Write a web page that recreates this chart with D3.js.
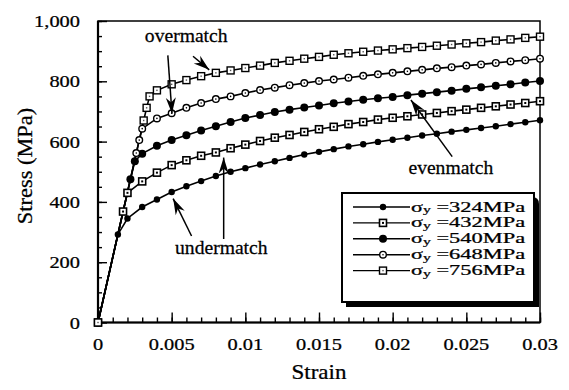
<!DOCTYPE html>
<html><head><meta charset="utf-8">
<script src="https://cdn.jsdelivr.net/npm/d3@7"></script>
<style>
html,body{margin:0;padding:0;background:#fff;}
svg text{font-family:"Liberation Serif","Times New Roman",serif;fill:#000;stroke:#000;stroke-width:0.25px;}
</style></head>
<body><svg id="c" width="569" height="390"></svg>
<script>
// ---------- data ----------
const seriesNames = ["324MPa","432MPa","540MPa","648MPa","756MPa"];
const markerTypes = ["dotSmall","squareDot","dotLarge","circleOpen","squareOpen"];

const strain324 = [0,0.00135,0.002,0.003,0.004,0.005,0.006,0.007,0.008,0.009,0.010,0.011,0.012,0.013,0.014,0.015,0.016,0.017,0.018,0.019,0.020,0.021,0.022,0.023,0.024,0.025,0.026,0.027,0.028,0.029,0.030];
const stress324 = [0,292,345,383,408,433,452,469,486,500,512,524,535,546,557,566,575,584,591,599,606,613,620,626,633,639,645,651,658,664,671];

const strain432 = [0,0.0017,0.002,0.003,0.004,0.005,0.006,0.007,0.008,0.009,0.010,0.011,0.012,0.013,0.014,0.015,0.016,0.017,0.018,0.019,0.020,0.021,0.022,0.023,0.024,0.025,0.026,0.027,0.028,0.029,0.030];
const stress432 = [0,368,430,468,497,522,538,553,564,578,590,602,613,622,632,641,649,658,665,673,679,684,690,695,701,706,712,717,723,728,734];

const strain540 = [0,0.0022,0.0025,0.003,0.004,0.005,0.006,0.007,0.008,0.009,0.010,0.011,0.012,0.013,0.014,0.015,0.016,0.017,0.018,0.019,0.020,0.021,0.022,0.023,0.024,0.025,0.026,0.027,0.028,0.029,0.030];
const stress540 = [0,475,535,560,586,605,621,637,651,665,678,688,698,706,713,720,727,733,739,744,748,754,759,764,769,775,780,785,790,796,801];

const strain648 = [0,0.0026,0.0028,0.003,0.004,0.005,0.006,0.007,0.008,0.009,0.010,0.011,0.012,0.013,0.014,0.015,0.016,0.017,0.018,0.019,0.020,0.021,0.022,0.023,0.024,0.025,0.026,0.027,0.028,0.029,0.030];
const stress648 = [0,562,605,643,677,694,712,728,741,750,761,771,779,787,794,801,806,812,818,823,828,833,838,843,847,852,856,861,866,870,875];

const strain756 = [0,0.0031,0.0033,0.0035,0.004,0.005,0.006,0.007,0.008,0.009,0.010,0.011,0.012,0.013,0.014,0.015,0.016,0.017,0.018,0.019,0.020,0.021,0.022,0.023,0.024,0.025,0.026,0.027,0.028,0.029,0.030];
const stress756 = [0,670,712,750,770,790,804,817,828,836,844,852,861,868,875,881,888,893,898,902,906,910,914,918,922,926,930,935,939,944,948];

const xMajorTicks = [0,0.005,0.01,0.015,0.02,0.025,0.03];
const xTickLabels = ["0","0.005","0.01","0.015","0.02","0.025","0.03"];
const yMajorTicks = [0,200,400,600,800,1000];
const yTickLabels = ["0","200","400","600","800","1,000"];

const annotations = [
  {text:"overmatch", x:0.00318, y:930},
  {text:"undermatch", x:0.00523, y:226},
  {text:"evenmatch", x:0.02107, y:492}
];
// arrows: [fromStrain, fromStress, toStrain, toStress]
const arrows = [
  [0.00474, 886, 0.00502, 693],
  [0.00645, 883, 0.00755, 838],
  [0.00635, 287, 0.00510, 411],
  [0.00853, 277, 0.00853, 547],
  [0.02404, 550, 0.02124, 738]
];

// ---------- chart ----------
const svg = d3.select("#c");
const x = d3.scaleLinear().domain([0,0.03]).range([98,540]);
const y = d3.scaleLinear().domain([0,1000]).range([322.5,21]);

function stretchText(g, px, py, str, size, sx, anchor){
  return g.append("text")
    .attr("transform",`translate(${px},${py}) scale(${sx},1)`)
    .attr("text-anchor",anchor||"start")
    .attr("font-size",size)
    .text(str);
}

// axes ticks (inward)
const xMinor = d3.range(0,31).map(i=>i/1000);
const yMinor = d3.range(0,21).map(i=>i*50);
const gx1 = svg.append("g").attr("transform",`translate(0,${y(0)})`)
  .call(d3.axisBottom(x).tickValues(xMinor).tickSize(-5).tickSizeOuter(0).tickFormat(""));
const gx2 = svg.append("g").attr("transform",`translate(0,${y(0)})`)
  .call(d3.axisBottom(x).tickValues(xMajorTicks).tickSize(-10).tickSizeOuter(0).tickFormat(""));
const gy1 = svg.append("g").attr("transform",`translate(${x(0)},0)`)
  .call(d3.axisLeft(y).tickValues(yMinor).tickSize(-4).tickSizeOuter(0).tickFormat(""));
const gy2 = svg.append("g").attr("transform",`translate(${x(0)},0)`)
  .call(d3.axisLeft(y).tickValues(yMajorTicks).tickSize(-9).tickSizeOuter(0).tickFormat(""));
[gx1,gx2,gy1,gy2].forEach(g=>{
  g.select(".domain").remove();
  g.selectAll(".tick line").attr("stroke","#000").attr("stroke-width",1.4);
});

// frame
svg.append("rect").attr("x",x(0)).attr("y",y(1000)).attr("width",x(0.03)-x(0)).attr("height",y(0)-y(1000))
  .attr("fill","none").attr("stroke","#000").attr("stroke-width",1.5);
svg.append("line").attr("x1",x(0)).attr("x2",x(0.03)).attr("y1",y(0)).attr("y2",y(0)).attr("stroke","#000").attr("stroke-width",2.2);
svg.append("line").attr("x1",x(0)).attr("x2",x(0)).attr("y1",y(0)).attr("y2",y(1000)).attr("stroke","#000").attr("stroke-width",2.2);

// tick labels
xMajorTicks.forEach((v,i)=>stretchText(svg, x(v), 350, xTickLabels[i], 17, 1.2, "middle"));
yMajorTicks.forEach((v,i)=>stretchText(svg, 80, y(v)+6, yTickLabels[i], 17, 1.2, "end"));

// axis titles
stretchText(svg, 319, 379, "Strain", 20, 1.15, "middle");
svg.append("text").attr("transform","translate(32,166) rotate(-90) scale(1.12,1)")
  .attr("text-anchor","middle").attr("font-size",20).text("Stress (MPa)");

// markers
function drawMarker(g, type, cx, cy){
  if(type==="dotSmall"){
    g.append("circle").attr("cx",cx).attr("cy",cy).attr("r",3.2).attr("fill","#000");
  } else if(type==="dotLarge"){
    g.append("circle").attr("cx",cx).attr("cy",cy).attr("r",4).attr("fill","#000");
  } else if(type==="circleOpen"){
    g.append("circle").attr("cx",cx).attr("cy",cy).attr("r",3.3).attr("fill","#fff").attr("stroke","#000").attr("stroke-width",1.4);
    g.append("circle").attr("cx",cx).attr("cy",cy).attr("r",0.8).attr("fill","#000");
  } else if(type==="squareDot"){
    g.append("rect").attr("x",cx-3.5).attr("y",cy-3.5).attr("width",7).attr("height",7).attr("fill","#fff").attr("stroke","#000").attr("stroke-width",1.6);
    g.append("rect").attr("x",cx-1).attr("y",cy-1).attr("width",2).attr("height",2).attr("fill","#000");
  } else if(type==="squareOpen"){
    g.append("rect").attr("x",cx-3.5).attr("y",cy-3.5).attr("width",7).attr("height",7).attr("fill","#fff").attr("stroke","#000").attr("stroke-width",1.4);
    g.append("rect").attr("x",cx-0.7).attr("y",cy-0.7).attr("width",1.4).attr("height",1.4).attr("fill","#555");
  }
}

const seriesData = [
  [strain324,stress324],[strain432,stress432],[strain540,stress540],[strain648,stress648],[strain756,stress756]
];
const line = d3.line().x(d=>x(d[0])).y(d=>y(d[1]));
const plot = svg.append("g");
seriesData.forEach(([s,t],k)=>{
  const pts = s.map((v,i)=>[v,t[i]]);
  plot.append("path").attr("d",line(pts)).attr("fill","none").attr("stroke","#000").attr("stroke-width",1.6);
});
seriesData.forEach(([s,t],k)=>{
  s.forEach((v,i)=>drawMarker(plot, markerTypes[k], x(v), y(t[i])));
});

// annotations
annotations.forEach(a=>stretchText(svg, x(a.x), y(a.y), a.text, 18.5, 1.06, "start"));
function arrow(x1,y1,x2,y2){
  svg.append("line").attr("x1",x1).attr("y1",y1).attr("x2",x2).attr("y2",y2).attr("stroke","#000").attr("stroke-width",1.5);
  const ang = Math.atan2(y2-y1,x2-x1)*180/Math.PI;
  svg.append("path").attr("d","M0,0 L-16,-5 L-11,0 L-16,5 Z").attr("fill","#000")
    .attr("transform",`translate(${x2},${y2}) rotate(${ang})`);
}
arrows.forEach(a=>arrow(x(a[0]),y(a[1]),x(a[2]),y(a[3])));

// legend
const lg = svg.append("g");
lg.append("path").attr("d","M346,197 H532 Q539,197 539,204 V307 H346 Z").attr("fill","#000");
lg.append("rect").attr("x",342).attr("y",193).attr("width",192).attr("height",109).attr("fill","#fff").attr("stroke","#000").attr("stroke-width",2);
seriesNames.forEach((n,i)=>{
  const ry = 207 + i*15.9;
  lg.append("line").attr("x1",353).attr("x2",410).attr("y1",ry).attr("y2",ry).attr("stroke","#000").attr("stroke-width",1.4);
  drawMarker(lg, markerTypes[i], 383, ry);
  const t = lg.append("text").attr("transform",`translate(411,${ry+4.5}) scale(1.58,1)`).attr("font-size",14.2);
  t.append("tspan").attr("font-size",14).text("σ");
  t.append("tspan").attr("font-size",10).attr("dy",1.5).text("y");
  t.append("tspan").attr("dy",-1.5).text(" =" + n);
});
</script></body></html>
